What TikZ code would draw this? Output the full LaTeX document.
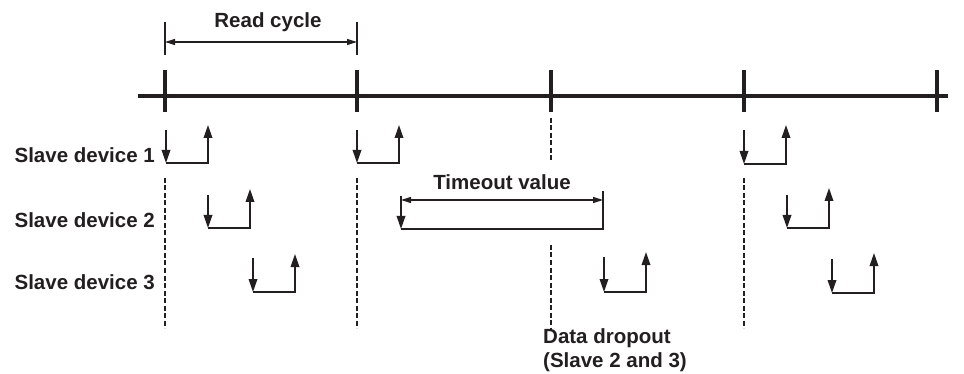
\documentclass[tikz,border=0pt]{standalone}
\usepackage{fontspec}
\setmainfont{Liberation Sans}
\usetikzlibrary{arrows.meta, positioning, calc}
\definecolor{ink}{RGB}{35,31,32}
\tikzset{
    timing/.style={x=1pt, y=-1pt, color=ink, font=\fontsize{20.5}{24}\selectfont\bfseries},
    axis/.style={line width=3.2pt},
    tickmark/.style={line width=3.2pt},
    pulse/.style={line width=1.8pt, -{Triangle[length=13pt, width=8.5pt]}},
    pulseline/.style={line width=1.8pt},
    dimline/.style={line width=1.5pt, {Triangle[length=10pt, width=6pt]}-{Triangle[length=10pt, width=6pt]}},
    extline/.style={line width=1.5pt},
    guide/.style={line width=1.6pt, dash pattern=on 5pt off 2.5pt},
    % text labels sit on their baseline
    lbl/.style={inner sep=0pt},
}

\begin{document}
\begin{tikzpicture}[timing]
    \useasboundingbox (0,0) rectangle (964,374);

    % time axis and cycle marks
    \coordinate (axisL) at (138,96);
    \coordinate (axisR) at (948,96);
    \draw[axis] (axisL) -- (axisR);
    \foreach \x [count=\n] in {165,357,551,744,937} {
        \coordinate (t\n) at (\x,96);
        \draw[tickmark] ([yshift=26pt]t\n) -- ([yshift=-16pt]t\n);
    }

    % dashed guides below the marks
    \foreach \n in {1,2,4}
        \draw[guide] (t\n |- 0,178) -- (t\n |- 0,328);
    \draw[guide] (t3 |- 0,118) -- (t3 |- 0,162);
    \draw[guide] (t3 |- 0,245) -- (t3 |- 0,330);

    % read cycle dimension
    \draw[extline] (t1 |- 0,22) -- (t1 |- 0,55);
    \draw[extline] (t2 |- 0,22) -- (t2 |- 0,55);
    \draw[dimline] (t1 |- 0,42) -- (t2 |- 0,42);
    \node[lbl, anchor=base] (readlbl) at (268,28) {Read cycle};

    % device labels
    \node[lbl, anchor=base east] (dev1) at (155,163) {Slave device 1};
    \node[lbl, anchor=base east] (dev2) at (155,228) {Slave device 2};
    \node[lbl, anchor=base east] (dev3) at (155,290) {Slave device 3};

    % request/response pulses
    \foreach \x/\top/\bot/\tip [count=\i] in {
        166/130/163/125, 357/130/163/125, 744/130/164/125,
        208/195/228/189, 787/195/228/188,
        253/258/292/254, 604/257/292/252, 832/259/293/253} {
        \coordinate (p\i-a) at (\x,\top);
        \coordinate (p\i-b) at (\x,\bot);
        \coordinate (p\i-c) at (\x+42,\bot);
        \coordinate (p\i-d) at (\x+42,\tip);
        \draw[pulse] (p\i-a) -- (p\i-b);
        \draw[pulse] (p\i-b) -- (p\i-c) -- (p\i-d);
    }

    % slave 2 times out
    \coordinate (to-a) at (401,196);
    \coordinate (to-b) at (401,229);
    \coordinate (to-c) at (603,229);
    \coordinate (to-d) at (603,191);
    \draw[pulse] (to-a) -- (to-b);
    \draw[pulseline] (to-b) -- (to-c) -- (to-d);
    \draw[dimline] (to-a |- 0,200) -- (to-c |- 0,200);
    \node[lbl, anchor=base] (tolbl) at (502,190) {Timeout value};

    % dropout note
    \node[lbl, anchor=base west] (drop1) at (543,343) {Data dropout};
    \node[lbl, anchor=base west] (drop2) at ([yshift=-24pt]drop1.base west) {(Slave 2 and 3)};
\end{tikzpicture}
\end{document}
